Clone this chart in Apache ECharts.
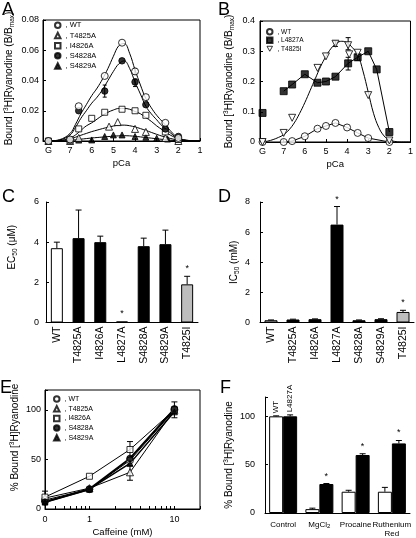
<!DOCTYPE html>
<html><head><meta charset="utf-8">
<script src="https://cdn.jsdelivr.net/npm/echarts@6/dist/echarts.min.js"></script>
<style>html,body{margin:0;padding:0;background:#fff}#c{width:416px;height:538px}</style>
</head><body><div id="c"></div>
<script>
// ---------- DATA ----------
// Panel A  (x = pCa, 8 = "G")
var aPcaWT = [8, 7, 6.6, 5.4, 4.6, 4, 3.5, 2.6, 2];
var aWT = [0, 0.001, 0.023, 0.043, 0.065, 0.046, 0.029, 0.012, 0.002];
var aPcaS4828A = [8, 7, 6.6, 5.4, 4.6, 4, 3.5, 2.6, 2];
var aS4828A = [0, 0.001, 0.020, 0.033, 0.053, 0.039, 0.024, 0.008, 0.003];
var aPcaI4826A = [8, 7, 6.6, 6, 5.4, 4.6, 4, 3.5, 2.6, 2];
var aI4826A = [0, 0.0005, 0.008, 0.015, 0.019, 0.021, 0.020, 0.017, 0.006, 0.001];
var aPcaT4825A = [8, 7, 6.6, 5.2, 4.8, 4, 3.5, 2.6, 2];
var aT4825A = [0, 0, 0.002, 0.0095, 0.0125, 0.008, 0.006, 0.002, 0];
var aPcaS4829A = [8, 7, 6.6, 6, 5.4, 5, 4.6, 4, 3.5, 3, 2.5, 2];
var aS4829A = [0, 0.0007, 0.0006, 0.0007, 0.003, 0.004, 0.004, 0.003, 0.0025, 0.0018, 0.0013, 0.001];
// fitted curves
var aFitPca = [8, 7.5, 7, 6.75, 6.5, 6.25, 6, 5.75, 5.5, 5.25, 5, 4.75, 4.5, 4.25, 4, 3.75, 3.5, 3.25, 3, 2.75, 2.5, 2.25, 2, 1.5, 1];
var aFitWT    = [0, 0.0008, 0.005, 0.011, 0.018, 0.024, 0.030, 0.035, 0.041, 0.048, 0.056, 0.063, 0.0645, 0.058, 0.047, 0.037, 0.028, 0.022, 0.017, 0.013, 0.009, 0.005, 0.002, 0.0003, 0];
var aFitS4828A= [0, 0.0006, 0.004, 0.009, 0.015, 0.020, 0.025, 0.029, 0.034, 0.040, 0.046, 0.051, 0.053, 0.048, 0.039, 0.031, 0.023, 0.018, 0.014, 0.010, 0.007, 0.004, 0.0015, 0.0002, 0];
var aFitI4826A= [0, 0.0003, 0.002, 0.004, 0.007, 0.010, 0.012, 0.0145, 0.017, 0.019, 0.0205, 0.0215, 0.0215, 0.021, 0.0195, 0.018, 0.0155, 0.013, 0.010, 0.0075, 0.005, 0.003, 0.0015, 0.0003, 0];
var aFitT4825A= [0, 0.0002, 0.0012, 0.0025, 0.0038, 0.005, 0.0062, 0.0072, 0.0082, 0.0091, 0.0099, 0.0104, 0.0105, 0.0101, 0.0093, 0.0082, 0.007, 0.0057, 0.0044, 0.0032, 0.0022, 0.0013, 0.0006, 0.0001, 0];
var aFitS4829A= [0, 0, 0.0004, 0.0008, 0.0012, 0.0016, 0.002, 0.0023, 0.0026, 0.0029, 0.0032, 0.0034, 0.0035, 0.0034, 0.0031, 0.0027, 0.0023, 0.0019, 0.0015, 0.0011, 0.0007, 0.0004, 0.0002, 0, 0];
var aErrPca = [4, 5.4, 4];
var aErrLo  = [0.044, 0.029, 0.036];
var aErrHi  = [0.048, 0.037, 0.041];

// Panel B
var bPcaWT = [8, 7, 6.6, 6, 5.4, 5, 4.55, 4, 3.5, 3, 2];
var bWT = [0, 0, 0.003, 0.019, 0.044, 0.053, 0.063, 0.048, 0.030, 0.013, 0];
var bPcaL4827A = [8, 7, 6.6, 6, 5.4, 5, 4.55, 3.95, 3.5, 3, 2.6, 2];
var bL4827A = [0.096, 0.168, 0.19, 0.224, 0.196, 0.2, 0.216, 0.26, 0.28, 0.30, 0.24, 0.033];
var bPcaT4825I = [8, 7, 6.6, 5.4, 5.0, 4.55, 3.95, 3.9, 3.5, 3, 2];
var bT4825I = [0, 0.03, 0.08, 0.245, 0.283, 0.325, 0.32, 0.29, 0.295, 0.155, 0.005];
var bFitPca = [8, 7.75, 7.5, 7.25, 7, 6.75, 6.5, 6.25, 6, 5.75, 5.5, 5.25, 5, 4.75, 4.5, 4.25, 4, 3.75, 3.5, 3.25, 3, 2.75, 2.5, 2.25, 2, 1.75, 1.5, 1];
var bFitT4825I = [0, 0.003, 0.008, 0.015, 0.024, 0.04, 0.063, 0.094, 0.13, 0.17, 0.21, 0.25, 0.283, 0.31, 0.327, 0.333, 0.328, 0.312, 0.29, 0.235, 0.165, 0.095, 0.048, 0.02, 0.007, 0.002, 0, 0];
var bErrPca = [4.55, 3.95, 3.95, 3.5];
var bErrLo  = [0.316, 0.238, 0.305, 0.27];
var bErrHi  = [0.334, 0.28, 0.345, 0.29];

// Panel C / D
var mutants = ['WT', 'T4825A', 'I4826A', 'L4827A', 'S4828A', 'S4829A', 'T4825I'];
var cEC50 = [3.7, 4.2, 4.0, 0.05, 3.8, 3.9, 1.9];
var cEC50err = [0.3, 1.4, 0.3, 0, 0.4, 0.7, 0.4];
var cSig = [0, 0, 0, 1, 0, 0, 1];
var dIC50 = [0.15, 0.2, 0.22, 6.5, 0.15, 0.22, 0.7];
var dIC50err = [0.02, 0.02, 0.02, 1.2, 0.02, 0.03, 0.11];
var dSig = [0, 0, 0, 1, 0, 0, 1];

// Panel E (0 mM is drawn at the left end of the broken log axis, 0.3)
var eCaff = [0.3, 1, 3, 10];
var eWT = [9, 20, 49, 100];
var eT4825A = [11, 21, 37, 100];
var eI4826A = [12, 33, 60, 100];
var eS4828A = [7, 20, 51, 101];
var eS4829A = [7, 20, 46, 98];
var eErrX  = [0.3, 3, 3, 10];
var eErrLo = [5, 29, 52, 92];
var eErrHi = [18, 44, 68, 108];

// Panel F
var fCats = ['Control', 'MgCl2', 'Procaine', 'Ruthenium\nRed'];
var fWT = [100, 4, 22, 22];
var fWTerr = [0.5, 1, 1.5, 4.5];
var fL4827A = [100, 30, 60, 72];
var fL4827Aerr = [1.5, 0.5, 1.3, 3];
var fSig = [0, 1, 1, 1];

// ---------- STYLE ----------
var FONT = '"Liberation Sans", Arial, Helvetica, sans-serif';
var BLK = '#000';
var barColors = ['#ffffff', '#000000', '#000000', '#000000', '#000000', '#000000', '#bdbdbd'];
var openSt = {color: '#fff', borderColor: BLK, borderWidth: 1};
var fillSt = {color: BLK, borderColor: BLK, borderWidth: 1};
function zip(x, y) { return x.map(function (v, i) { return [v, y[i]]; }); }
function zip3(x, lo, hi) { return x.map(function (v, i) { return [v, lo[i], hi[i]]; }); }
var richSS = {
  sup: {fontSize: 6.5, lineHeight: 8, verticalAlign: 'top', fontFamily: FONT},
  sub: {fontSize: 6.5, lineHeight: 8, verticalAlign: 'bottom', fontFamily: FONT}
};

function errSeries(idx, data, opt) {
  opt = opt || {};
  return {
    type: 'custom', xAxisIndex: idx, yAxisIndex: idx, silent: true, z: opt.z || 4,
    encode: {x: 0, y: [1, 2]}, data: data,
    renderItem: function (params, api) {
      var lo = api.coord([api.value(0), api.value(1)]);
      var hi = api.coord([api.value(0), api.value(2)]);
      var x = lo[0] + (opt.dx || 0), cw = opt.cap || 2.5;
      var st = {stroke: BLK, lineWidth: 1};
      var ch = [
        {type: 'line', shape: {x1: x, y1: lo[1], x2: x, y2: hi[1]}, style: st},
        {type: 'line', shape: {x1: x - cw, y1: hi[1], x2: x + cw, y2: hi[1]}, style: st}
      ];
      if (opt.both) ch.push({type: 'line', shape: {x1: x - cw, y1: lo[1], x2: x + cw, y2: lo[1]}, style: st});
      return {type: 'group', children: ch};
    }
  };
}
function starSeries(idx, data, dx) {
  return {
    type: 'custom', xAxisIndex: idx, yAxisIndex: idx, silent: true, z: 6,
    encode: {x: 0, y: 1}, data: data,
    renderItem: function (params, api) {
      var p = api.coord([api.value(0), api.value(1)]);
      return {type: 'text', x: p[0] + (dx || 0), y: p[1] - 3,
        style: {text: '*', font: '9px ' + FONT, align: 'center', verticalAlign: 'bottom', fill: BLK}};
    }
  };
}
function catErr(vals, errs) {
  var out = [];
  vals.forEach(function (v, i) { if (errs[i] > 0) out.push([i, v, v + errs[i]]); });
  return out;
}
function catStar(vals, errs, sig) {
  var out = [];
  vals.forEach(function (v, i) { if (sig[i]) out.push([i, v + errs[i]]); });
  return out;
}

var axLine = {lineStyle: {color: BLK, width: 1}};
var labSt = {color: BLK, fontSize: 9, fontFamily: FONT};
function pcaX(idx, max) {
  return {
    type: 'value', gridIndex: idx, inverse: true, min: 1, max: max, interval: 1,
    axisLine: axLine, axisTick: {inside: true, length: 3, lineStyle: {color: BLK}},
    splitLine: {show: false},
    axisLabel: Object.assign({margin: 5, formatter: function (v) {
      if (v === 8) return 'G'; return Number.isInteger(v) ? String(v) : ''; }}, labSt),
    name: 'pCa', nameLocation: 'middle', nameGap: 17,
    nameTextStyle: {color: BLK, fontSize: 9.5, fontFamily: FONT}
  };
}
function valY(idx, max, interval, name, gap, margin, shift) {
  return {
    type: 'value', gridIndex: idx, min: 0, max: max, interval: interval,
    axisLine: {show: true, lineStyle: {color: BLK, width: 1}},
    axisTick: {show: true, inside: true, length: 3, lineStyle: {color: BLK}},
    splitLine: {show: false},
    axisLabel: Object.assign({margin: margin, formatter: function (v) {
      var r = Math.round(v / interval) * interval; return Math.abs(r - v) < 1e-9 ? String(+v.toFixed(4)) : ''; }}, labSt),
    name: name, nameLocation: 'middle', nameRotate: 90, nameGap: gap,
    nameTextStyle: {color: BLK, fontSize: 10, fontFamily: FONT, lineHeight: 13, rich: richSS,
      padding: [0, 0, 0, shift || 0]}
  };
}
function catX(idx, cats, rotate, margin, fs) {
  return {
    type: 'category', gridIndex: idx, data: cats,
    axisLine: axLine, axisTick: {show: false},
    axisLabel: {rotate: rotate, margin: margin, color: BLK, fontSize: fs, fontFamily: FONT, interval: 0,
      lineHeight: fs + 1, rich: {s: {fontSize: 6, verticalAlign: 'bottom', lineHeight: fs + 1, fontFamily: FONT}},
      formatter: function (v) { return v === 'MgCl2' ? 'MgCl{s|2}' : v; }}
  };
}
function sc(idx, name, x, y, symbol, st, size, rot) {
  return {type: 'scatter', name: name, xAxisIndex: idx, yAxisIndex: idx, data: zip(x, y),
    symbol: symbol, symbolSize: size, symbolRotate: rot || 0, itemStyle: st, z: 5, silent: true};
}
function ln(idx, name, x, y, smooth, w) {
  return {type: 'line', name: name, xAxisIndex: idx, yAxisIndex: idx, data: zip(x, y),
    showSymbol: false, symbol: 'none', smooth: smooth, lineStyle: {color: BLK, width: w || 1}, z: 3, silent: true};
}
var triDown = 'path://M0,0L10,0L5,9Z';
function legend(left, top, items, fs, lh, gap) {
  return {
    orient: 'vertical', left: left, top: top, selectedMode: false, itemWidth: 5.5, itemHeight: 5.5,
    itemGap: gap, padding: 0, data: items,
    formatter: function (n) { return ', ' + n; },
    textStyle: {color: BLK, fontSize: fs, fontFamily: FONT, lineHeight: lh}
  };
}

var grids = [
  {left: 43, top: 20, width: 157, height: 121, show: true, borderColor: BLK, borderWidth: 1},
  {left: 260, top: 21, width: 153, height: 121, show: true, borderColor: BLK, borderWidth: 1},
  {left: 46, top: 202, width: 152, height: 120.5},
  {left: 260, top: 202, width: 154, height: 120.5},
  {left: 45, top: 390, width: 155, height: 122, show: true, borderColor: BLK, borderWidth: 1},
  {left: 265, top: 397, width: 145, height: 120}
];

var xAxes = [
  pcaX(0, 8.25),
  pcaX(1, 8.12),
  catX(2, mutants, 90, 4, 10.5),
  catX(3, mutants, 90, 4, 10.5),
  {type: 'log', gridIndex: 4, logBase: 10, min: 0.3, max: 20,
    axisLine: axLine, splitLine: {show: false},
    axisTick: {inside: true, length: 3, lineStyle: {color: BLK},
      customValues: [0.3, 0.4, 0.5, 0.6, 0.7, 0.8, 0.9, 1, 2, 3, 4, 5, 6, 7, 8, 9, 10, 20]},
    axisLabel: Object.assign({margin: 6, customValues: [0.3, 1, 10], formatter: function (v) {
      if (Math.abs(v - 0.3) < 1e-6) return '0'; if (Math.abs(v - 1) < 1e-6) return '1';
      if (Math.abs(v - 10) < 1e-6) return '10'; return ''; }}, labSt),
    name: 'Caffeine (mM)', nameLocation: 'middle', nameGap: 18,
    nameTextStyle: {color: BLK, fontSize: 9.5, fontFamily: FONT}},
  catX(5, fCats, 0, 7, 8)
];
var yAxes = [
  valY(0, 0.08, 0.02, 'Bound [{sup|3}H]Ryanodine (B/B{sub|max})', 27, 4, 4),
  valY(1, 0.4, 0.1, 'Bound [{sup|3}H]Ryanodine (B/B{sub|max})', 24, 5, 0),
  valY(2, 6, 2, 'EC{sub|50} (μM)', 27, 7, 30),
  valY(3, 8, 2, 'IC{sub|50} (mM)', 18, 10, 0),
  valY(4, 120, 50, '% Bound [{sup|3}H]Ryanodine', 20, 4, 24),
  valY(5, 120, 50, '% Bound [{sup|3}H]Ryanodine', 23, 10, 0)
];

var series = [];
// ---- A ----
series.push(ln(0, 'fitWT', aFitPca, aFitWT, 0.4));
series.push(ln(0, 'fitS4828A', aFitPca, aFitS4828A, 0.4));
series.push(ln(0, 'fitI4826A', aFitPca, aFitI4826A, 0.4));
series.push(ln(0, 'fitT4825A', aFitPca, aFitT4825A, 0.4));
series.push(ln(0, 'fitS4829A', aFitPca, aFitS4829A, 0.4));
series.push(errSeries(0, zip3(aErrPca, aErrLo, aErrHi), {both: true, cap: 2}));
series.push(sc(0, 'S4829A', aPcaS4829A, aS4829A, 'triangle', fillSt, 6));
series.push(sc(0, 'T4825A', aPcaT4825A, aT4825A, 'triangle', openSt, 7));
series.push(sc(0, 'I4826A', aPcaI4826A, aI4826A, 'rect', openSt, 6));
series.push(sc(0, 'S4828A', aPcaS4828A, aS4828A, 'circle', fillSt, 6.5));
series.push(sc(0, 'WT', aPcaWT, aWT, 'circle', openSt, 7));
// ---- B ----
series.push(ln(1, 'fitT4825I', bFitPca, bFitT4825I, 0.4));
series.push(ln(1, 'lineWT', bPcaWT.slice(1), bWT.slice(1), false));
series.push(ln(1, 'lineL4827A', bPcaL4827A.slice(1), bL4827A.slice(1), false));
series.push(errSeries(1, zip3(bErrPca, bErrLo, bErrHi), {both: true, cap: 2.5}));
series.push(sc(1, 'WT', bPcaWT, bWT, 'circle', openSt, 7));
series.push(sc(1, 'L4827A', bPcaL4827A, bL4827A, 'rect', fillSt, 7));
series.push(sc(1, 'T4825I', bPcaT4825I, bT4825I, 'triangle', openSt, 7, 180));
// ---- C ----
series.push({type: 'bar', xAxisIndex: 2, yAxisIndex: 2, barWidth: 12, silent: true,
  data: cEC50.map(function (v, i) { return {value: v, itemStyle: {color: barColors[i], borderColor: BLK, borderWidth: 1}}; })});
series.push(errSeries(2, catErr(cEC50, cEC50err), {cap: 3}));
series.push(starSeries(2, catStar(cEC50, cEC50err, cSig)));
// ---- D ----
series.push({type: 'bar', xAxisIndex: 3, yAxisIndex: 3, barWidth: 13, silent: true,
  data: dIC50.map(function (v, i) { return {value: v, itemStyle: {color: barColors[i], borderColor: BLK, borderWidth: 1}}; })});
series.push(errSeries(3, catErr(dIC50, dIC50err), {cap: 3}));
series.push(starSeries(3, catStar(dIC50, dIC50err, dSig)));
// ---- E ----
series.push(ln(4, 'eT', eCaff, eT4825A, false));
series.push(ln(4, 'eI', eCaff, eI4826A, false));
series.push(ln(4, 'eW', eCaff, eWT, false));
series.push(ln(4, 'eS8', eCaff, eS4828A, false, 2));
series.push(ln(4, 'eS9', eCaff, eS4829A, false, 1.5));
series.push(errSeries(4, zip3(eErrX, eErrLo, eErrHi), {both: true, cap: 3}));
series.push(sc(4, 'WT', eCaff, eWT, 'circle', openSt, 7));
series.push(sc(4, 'T4825A', eCaff, eT4825A, 'triangle', openSt, 7));
series.push(sc(4, 'I4826A', eCaff, eI4826A, 'rect', openSt, 6));
series.push(sc(4, 'S4828A', eCaff, eS4828A, 'circle', fillSt, 6.5));
series.push(sc(4, 'S4829A', eCaff, eS4829A, 'triangle', fillSt, 6));
// ---- F ----
series.push({type: 'bar', name: 'WT', xAxisIndex: 5, yAxisIndex: 5, barWidth: 14, barGap: '0%', silent: true,
  itemStyle: {color: '#fff', borderColor: BLK, borderWidth: 1},
  data: fWT.map(function (v, i) { return i === 0 ? {value: v, label: {show: true, position: 'top', rotate: 90,
    align: 'left', verticalAlign: 'middle', distance: 3, formatter: 'WT', color: BLK, fontSize: 8, fontFamily: FONT}} : v; })});
series.push({type: 'bar', name: 'L4827A', xAxisIndex: 5, yAxisIndex: 5, barWidth: 14, barGap: '0%', silent: true,
  itemStyle: {color: BLK, borderColor: BLK, borderWidth: 1},
  data: fL4827A.map(function (v, i) { return i === 0 ? {value: v, label: {show: true, position: 'top', rotate: 90,
    align: 'left', verticalAlign: 'middle', distance: 4, formatter: 'L4827A', color: BLK, fontSize: 8, fontFamily: FONT}} : v; })});
series.push(errSeries(5, catErr(fWT, fWTerr), {dx: -7, cap: 3}));
series.push(errSeries(5, catErr(fL4827A, fL4827Aerr), {dx: 7, cap: 3}));
series.push(starSeries(5, catStar(fL4827A, fL4827Aerr, fSig), 7));

var legends = [
  legend(54, 21, [{name: 'WT', icon: 'circle'}, {name: 'T4825A', icon: 'triangle'}, {name: 'I4826A', icon: 'rect'},
    {name: 'S4828A', icon: 'circle'}, {name: 'S4829A', icon: 'triangle'}], 7.5, 8.5, 1.7),
  legend(266, 28, [{name: 'WT', icon: 'circle'}, {name: 'L4827A', icon: 'rect'},
    {name: 'T4825I', icon: triDown}], 6.5, 7.5, 1),
  legend(53, 395, [{name: 'WT', icon: 'circle'}, {name: 'T4825A', icon: 'triangle'}, {name: 'I4826A', icon: 'rect'},
    {name: 'S4828A', icon: 'circle'}, {name: 'S4829A', icon: 'triangle'}], 7, 8, 1.7)
];
legends[1].data[2].itemStyle = {color: '#fff', borderColor: BLK, borderWidth: 1};

var letters = [['A', 2, 1], ['B', 218, 1], ['C', 2, 188], ['D', 218, 188], ['E', 0, 379], ['F', 220, 379]];
var graphic = letters.map(function (l) {
  return {type: 'text', left: l[1], top: l[2], style: {text: l[0], font: '18px ' + FONT, fill: BLK}};
});

var chart = echarts.init(document.getElementById('c'), null, {renderer: 'canvas'});
chart.setOption({
  animation: false, backgroundColor: '#fff',
  textStyle: {fontFamily: FONT},
  grid: grids, xAxis: xAxes, yAxis: yAxes, series: series, legend: legends, graphic: graphic
});
</script></body></html>
